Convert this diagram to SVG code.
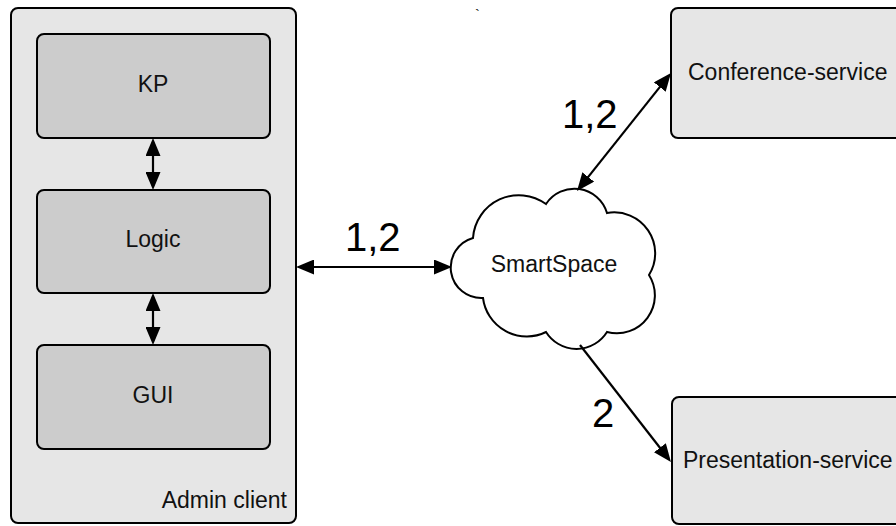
<svg xmlns="http://www.w3.org/2000/svg" width="896" height="526" viewBox="0 0 896 526">
<style>
.box{stroke:#000;stroke-width:2}
.outer{fill:#e6e6e6}
.inner{fill:#cccccc}
.svc{fill:#e6e6e6}
.t{font-family:"Liberation Sans",Arial,sans-serif;font-size:23px;fill:#111}
.big{font-family:"Liberation Sans",Arial,sans-serif;font-size:40px;fill:#000}
.c{fill:none;stroke:#000;stroke-width:2.2}
</style>
<defs>
<marker id="ah" markerUnits="userSpaceOnUse" markerWidth="18" markerHeight="15" viewBox="0 0 18 15" refX="14" refY="7.5" orient="auto-start-reverse">
<path d="M0,0 L18,7.5 L0,15 z" fill="#000"/>
</marker>
</defs>
<rect width="896" height="526" fill="#fff"/>
<g id="admin-client">
<rect class="box outer" x="11" y="8" width="285" height="515" rx="7"/>
<text class="t" x="287" y="508" text-anchor="end">Admin client</text>
</g>
<g id="kp">
<rect class="box inner" x="37" y="34" width="233" height="104" rx="7"/>
<text class="t" x="153" y="92" text-anchor="middle">KP</text>
</g>
<g id="logic">
<rect class="box inner" x="37" y="190" width="233" height="103" rx="7"/>
<text class="t" x="153" y="247" text-anchor="middle">Logic</text>
</g>
<g id="gui">
<rect class="box inner" x="37" y="345" width="233" height="104" rx="7"/>
<text class="t" x="153" y="403" text-anchor="middle">GUI</text>
</g>
<g id="smartspace">
<path class="box" fill="#fff" d="M473,238 A46,46 0 0 1 546,204 A34,34 0 0 1 607,213 A41,41 0 0 1 649,275 A38,38 0 0 1 607,332 A36,36 0 0 1 546,332 A44,44 0 0 1 483,298 A30.6,30.6 0 0 1 473,238 Z"/>
<text class="t" x="554" y="272" text-anchor="middle">SmartSpace</text>
</g>
<g id="conference-service">
<rect class="box svc" x="671" y="8" width="240" height="130" rx="7"/>
<text class="t" x="688" y="80">Conference-service</text>
</g>
<g id="presentation-service">
<rect class="box svc" x="672" y="397" width="240" height="127" rx="7"/>
<text class="t" x="683" y="468">Presentation-service</text>
</g>
<g id="connectors">
<line class="c" x1="153" y1="142" x2="153" y2="186" marker-start="url(#ah)" marker-end="url(#ah)"/>
<line class="c" x1="153" y1="297" x2="153" y2="341" marker-start="url(#ah)" marker-end="url(#ah)"/>
<line class="c" x1="300" y1="267" x2="448" y2="267" marker-start="url(#ah)" marker-end="url(#ah)"/>
<line class="c" x1="579.5" y1="187.9" x2="668.5" y2="76.1" marker-start="url(#ah)" marker-end="url(#ah)"/>
<line class="c" x1="580" y1="345" x2="668.5" y2="458.8" marker-end="url(#ah)"/>
<text class="big" x="345" y="251">1,2</text>
<text class="big" x="562" y="128">1,2</text>
<text class="big" x="592" y="427">2</text>
</g>
<text class="t" x="475" y="20" style="font-size:15px">`</text>
</svg>
